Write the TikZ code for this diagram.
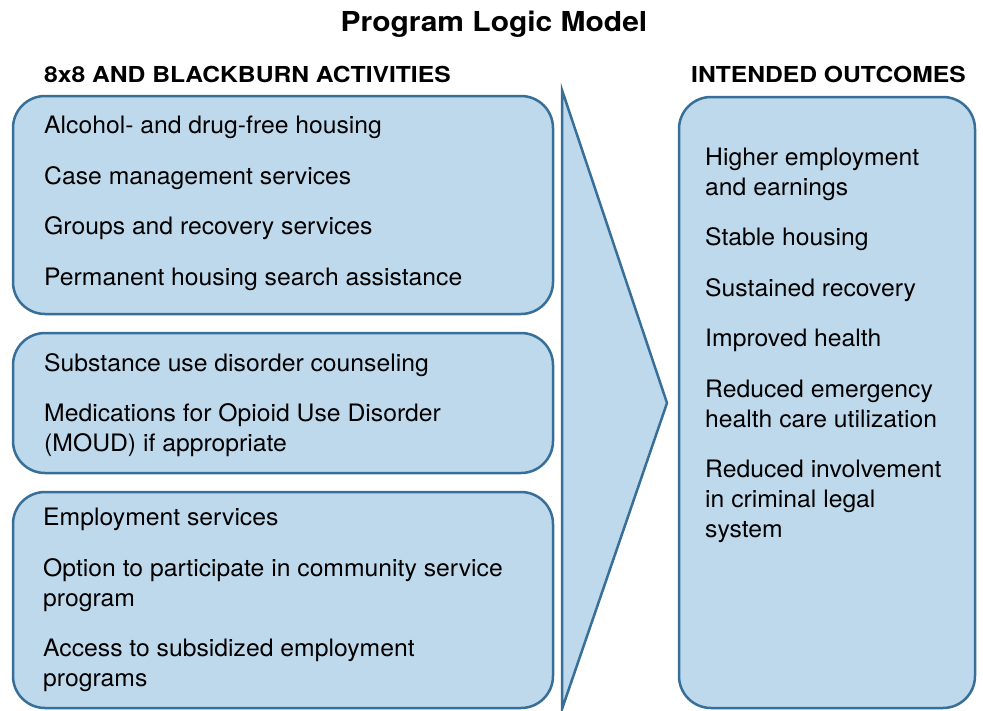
\documentclass[tikz,border=0pt]{standalone}
\usepackage{fontspec}
\setmainfont{TeX Gyre Heros}
\newfontfamily\bodyfont{TeX Gyre Heros}[FakeStretch=1.03]
\newfontfamily\headfont{TeX Gyre Heros}[FakeStretch=1.12]
\newfontfamily\titlefont{TeX Gyre Heros}[FakeStretch=1.09]
\definecolor{boxfill}{HTML}{BED9EB}
\definecolor{boxline}{HTML}{386F99}
\begin{document}
\begin{tikzpicture}[x=1pt,y=-1pt,
  panel/.style={draw=boxline,fill=boxfill,line width=2.5pt,rounded corners=32pt},
  item/.style={anchor=base west,inner sep=0pt,font=\bodyfont\fontsize{24}{30}\selectfont},
  head/.style={anchor=base west,inner sep=0pt,font=\headfont\fontsize{22}{26}\selectfont\bfseries},
  title/.style={anchor=base,inner sep=0pt,font=\titlefont\fontsize{27.5}{32}\selectfont\bfseries}]
\useasboundingbox (0,0) rectangle (983,710);
% panels
\draw[panel] (13,96) rectangle (553,314);
\draw[panel] (13,333) rectangle (553,473);
\draw[panel] (13,492) rectangle (553,708);
\draw[panel] (679,97) rectangle (975,708);
\draw[draw=boxline,fill=boxfill,line width=2.5pt,line join=miter] (562,90) -- (667,403) -- (562,709) -- cycle;
% titles
\node[title] (t) at (494,31) {Program Logic Model};
\node[head] (h1) at (44,82) {8x8 AND BLACKBURN ACTIVITIES};
\node[head] (h2) at (691,82) {INTENDED OUTCOMES};
% box 1
\node[item] (a1) at (44,133) {Alcohol- and drug-free housing};
\node[item] (a2) at (44,184) {Case management services};
\node[item] (a3) at (44,234) {Groups and recovery services};
\node[item] (a4) at (44,285) {Permanent housing search assistance};
% box 2
\node[item] (b1) at (44,371) {Substance use disorder counseling};
\node[item] (b2) at (44,421) {Medications for Opioid Use Disorder};
\node[item] (b3) at (44,451) {(MOUD) if appropriate};
% box 3
\node[item] (c1) at (43,525) {Employment services};
\node[item] (c2) at (43,576) {Option to participate in community service};
\node[item] (c3) at (43,606) {program};
\node[item] (c4) at (43,656) {Access to subsidized employment};
\node[item] (c5) at (43,686) {programs};
% outcomes
\node[item] (o1) at (705,165) {Higher employment};
\node[item] (o2) at (705,195) {and earnings};
\node[item] (o3) at (705,245) {Stable housing};
\node[item] (o4) at (705,296) {Sustained recovery};
\node[item] (o5) at (705,346) {Improved health};
\node[item] (o6) at (705,397) {Reduced emergency};
\node[item] (o7) at (705,427) {health care utilization};
\node[item] (o8) at (705,477) {Reduced involvement};
\node[item] (o9) at (705,507) {in criminal legal};
\node[item] (o10) at (705,537) {system};
\end{tikzpicture}
\end{document}
